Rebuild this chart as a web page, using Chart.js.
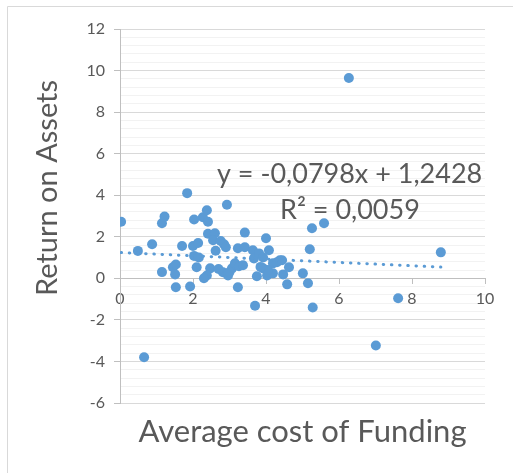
<!DOCTYPE html>
<html>
<head>
<meta charset="utf-8">
<script src="https://cdn.jsdelivr.net/npm/chart.js@4.4.1/dist/chart.umd.min.js"></script>
<style>
  html, body { margin: 0; padding: 0; background: #fff; }
  #wrap { width: 513px; height: 473px; }
</style>
</head>
<body>
<div id="wrap"><canvas id="chart" width="513" height="473"></canvas></div>
<script>
// Average cost of funding (x) and return on assets (y)
const costOfFunding = [
  0.03, 0.49, 0.88, 1.15, 1.22, 1.84, 2.03, 2.27, 2.38, 2.41,
  2.93, 1.70, 2.00, 2.14, 2.03, 2.16, 2.10, 2.41, 2.60, 2.55,
  2.76, 2.85, 2.90, 2.62, 2.47, 2.38, 2.30, 1.15, 1.45, 1.53,
  1.51, 1.53, 1.92, 2.82, 2.96, 3.07, 3.15, 3.26, 3.37, 3.23,
  3.42, 3.42, 3.23, 3.64, 3.67, 4.00, 4.08, 3.81, 3.92, 3.75,
  3.92, 4.03, 3.70, 4.19, 4.30, 4.38, 4.19, 4.47, 4.63, 4.58,
  5.26, 5.59, 5.20, 8.79, 4.44, 5.01, 5.15, 5.28, 7.62, 0.66,
  7.01, 6.27, 3.00, 2.70, 4.05, 3.85
];
const returnOnAssets = [
  2.72, 1.32, 1.64, 2.65, 2.97, 4.10, 2.83, 2.94, 3.28, 2.72,
  3.54, 1.56, 1.56, 1.70, 1.08, 1.00, 0.53, 2.15, 2.17, 1.83,
  1.80, 1.64, 1.50, 1.33, 0.48, 0.14, 0.00, 0.30, 0.53, 0.67,
  0.19, -0.43, -0.39, 0.29, 0.14, 0.48, 0.72, 0.58, 0.63, 1.45,
  1.50, 2.20, -0.43, 1.35, 0.96, 1.93, 1.35, 1.20, 1.00, 0.10,
  0.48, 0.14, -1.32, 0.72, 0.77, 0.87, 0.24, 0.19, 0.53, -0.29,
  2.41, 2.65, 1.40, 1.25, 0.87, 0.24, -0.24, -1.40, -0.96, -3.80,
  -3.23, 9.64, 0.30, 0.45, 0.40, 0.55
];

// linear trendline as printed on the chart
const trendSlope = -0.0798;
const trendIntercept = 1.2428;
const trendLabel = 'y = -0,0798x + 1,2428';
const rSquaredLabel = 'R² = 0,0059';

const xTitle = 'Average cost of Funding';
const yTitle = 'Return on Assets';

const blue = '#5B9BD5';
const textGray = '#595959';
const font = 'Lato, "Liberation Sans", sans-serif';

const points = costOfFunding.map((x, i) => ({ x: x, y: returnOnAssets[i] }));
const xMin = Math.min(...costOfFunding);
const xMax = Math.max(...costOfFunding);
const trendPoints = [xMin, xMax].map(x => ({ x: x, y: trendSlope * x + trendIntercept }));

function isMajor(v) {
  return Math.abs(v / 2 - Math.round(v / 2)) < 1e-6;
}

// frame, axis titles and trendline text
const extras = {
  id: 'extras',
  beforeDraw(chart) {
    const ctx = chart.ctx;
    ctx.save();
    ctx.strokeStyle = '#d9d9d9';
    ctx.lineWidth = 1;
    ctx.beginPath();
    ctx.moveTo(7.5, 473);
    ctx.lineTo(7.5, 6.5);
    ctx.lineTo(513, 6.5);
    ctx.stroke();
    ctx.restore();
  },
  afterDraw(chart) {
    const ctx = chart.ctx;
    const area = chart.chartArea;
    ctx.save();
    ctx.fillStyle = textGray;
    ctx.textBaseline = 'alphabetic';

    ctx.font = '31px ' + font;
    ctx.textAlign = 'center';
    ctx.fillText(xTitle, (area.left + area.right) / 2, 442);

    ctx.font = '29px ' + font;
    ctx.translate(57, 188);
    ctx.rotate(-Math.PI / 2);
    ctx.fillText(yTitle, 0, 0);
    ctx.setTransform(1, 0, 0, 1, 0, 0);

    ctx.font = '27px ' + font;
    ctx.textAlign = 'left';
    ctx.fillText(trendLabel, 217, 183);
    ctx.fillText(rSquaredLabel, 280, 219);
    ctx.restore();
  }
};

const chart = new Chart(document.getElementById('chart'), {
  type: 'scatter',
  data: {
    datasets: [
      {
        type: 'line',
        data: trendPoints,
        borderColor: blue,
        borderWidth: 3,
        borderDash: [0.5, 7.7],
        borderCapStyle: 'round',
        pointRadius: 0,
        fill: false
      },
      {
        data: points,
        backgroundColor: blue,
        borderWidth: 0,
        pointRadius: 5,
        pointHoverRadius: 5
      }
    ]
  },
  options: {
    responsive: false,
    animation: false,
    layout: { padding: { left: 0, top: 29, right: 28, bottom: 70 } },
    plugins: {
      legend: { display: false },
      tooltip: { enabled: false }
    },
    scales: {
      x: {
        type: 'linear',
        min: 0,
        max: 10,
        position: { y: 0 },
        afterFit(scale) { scale.height = 0; },
        ticks: {
          stepSize: 2,
          color: textGray,
          font: { family: font, size: 16 },
          padding: 6
        },
        grid: {
          display: true,
          drawOnChartArea: false,
          drawTicks: true,
          tickLength: 5,
          tickColor: '#bfbfbf'
        },
        border: { display: true, color: '#bfbfbf' }
      },
      y: {
        type: 'linear',
        min: -6,
        max: 12,
        afterFit(scale) { scale.width = 120; },
        ticks: {
          stepSize: 0.4,
          autoSkip: false,
          color: textGray,
          font: { family: font, size: 16 },
          padding: 9,
          callback: v => isMajor(v) ? Math.round(v) : ''
        },
        grid: {
          color: ctx => isMajor(ctx.tick.value) ? '#d9d9d9' : '#f2f2f2',
          tickColor: ctx => isMajor(ctx.tick.value) ? '#bfbfbf' : 'rgba(0,0,0,0)',
          tickLength: 6
        },
        border: { display: true, color: '#bfbfbf' }
      }
    }
  },
  plugins: [extras]
});
</script>
</body>
</html>
